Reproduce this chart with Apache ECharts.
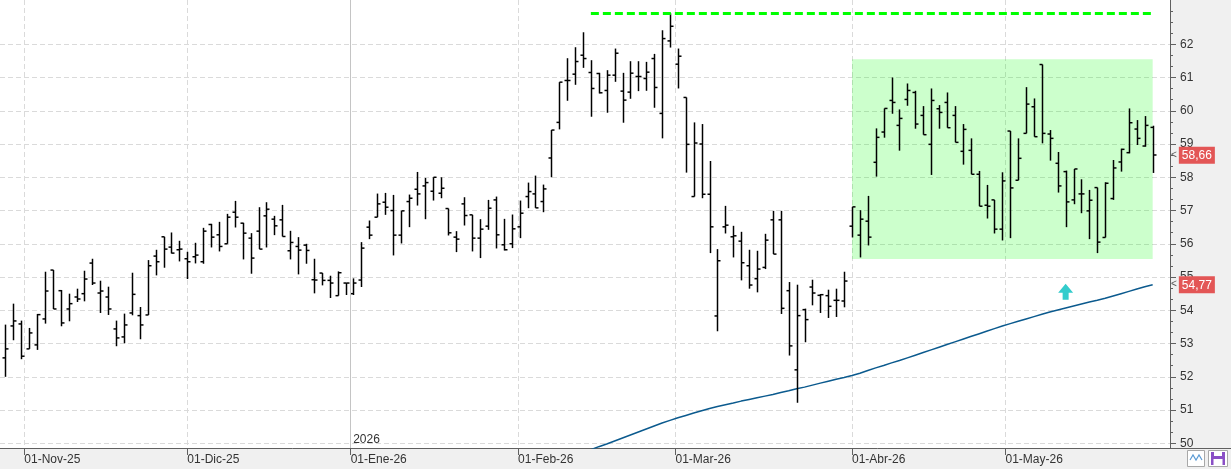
<!DOCTYPE html>
<html>
<head>
<meta charset="utf-8">
<script src="https://cdn.jsdelivr.net/npm/echarts@6/dist/echarts.min.js"></script>
<style>
html, body { margin: 0; padding: 0; background: #f0f0f0; }
#chart { width: 1231px; height: 469px; }
</style>
</head>
<body>
<div id="chart"></div>
<script>
// barras diarias OHLC, de izquierda a derecha (indice = barra)
const open = [
  52.57,53.53,53.59,52.84,52.96,53.74,55.21,54.59,54.04,54.40,
  54.50,55.42,54.52,54.40,53.44,53.20,53.92,53.84,53.86,55.63,
  56.21,55.90,55.82,55.55,55.61,55.46,56.58,56.27,56.00,56.95,
  56.62,56.17,56.38,56.84,56.74,56.72,55.79,55.92,55.96,54.92,
  55.12,54.90,54.44,54.82,54.50,54.91,56.50,56.80,57.25,57.00,
  56.26,57.27,57.64,57.74,57.58,57.52,57.06,56.20,57.20,56.87,
  56.17,56.53,57.32,55.97,56.00,56.51,57.42,57.50,57.27,58.58,
  59.65,60.91,61.10,61.67,61.15,61.12,60.61,61.07,60.59,60.56,
  61.03,60.97,61.57,59.92,62.10,61.40,60.40,57.42,59.00,57.49,
  53.83,56.51,56.21,56.08,55.34,54.95,55.29,56.72,56.72,54.59,
  52.21,54.02,54.70,54.45,54.44,54.30,54.28,56.53,56.26,56.68,
  58.45,59.36,60.31,59.56,60.34,60.55,59.86,58.99,60.06,60.25,
  59.86,58.78,58.81,58.09,57.16,57.32,56.44,59.39,57.91,59.32,
  60.12,61.39,59.30,58.42,58.17,57.32,57.50,56.99,57.69,56.19,
  57.36,58.46,58.74,59.45,58.94,59.50
];
const high = [
  53.57,54.20,53.69,53.47,53.89,55.16,55.21,54.61,54.50,54.65,
  55.19,55.55,54.89,54.71,53.69,53.90,55.13,54.10,55.51,55.82,
  56.21,56.34,56.09,55.76,56.03,56.48,56.60,56.66,56.90,57.29,
  56.63,56.32,57.10,57.25,56.84,57.17,56.39,56.20,56.00,55.55,
  55.12,55.04,55.17,54.82,54.96,56.05,56.70,57.51,57.53,57.47,
  56.99,57.48,58.16,57.98,58.00,58.00,57.06,56.38,57.40,56.87,
  56.74,57.32,57.42,56.75,56.88,57.30,57.84,58.05,57.78,59.42,
  60.86,61.58,61.91,62.36,61.52,61.14,61.22,61.87,61.14,61.49,
  61.49,61.47,61.71,62.42,62.93,61.87,60.40,59.65,59.60,58.49,
  55.84,57.14,56.54,56.36,55.82,55.79,56.30,56.99,56.99,54.85,
  54.77,54.05,54.92,54.49,54.62,54.65,55.16,57.11,57.01,57.44,
  59.47,60.07,61.00,60.04,60.82,60.60,60.14,60.67,60.17,60.55,
  60.14,59.60,59.17,58.19,57.77,57.32,58.15,59.39,59.17,60.71,
  60.37,61.39,59.42,58.76,58.20,58.25,57.94,57.62,57.69,57.85,
  58.52,58.86,60.07,59.72,59.84,59.55
];
const low = [
  52.00,53.10,52.53,52.84,52.81,53.60,54.04,53.52,53.67,54.25,
  54.27,54.76,53.92,53.86,52.92,53.01,53.85,53.13,53.86,55.05,
  55.28,55.71,55.47,54.94,55.41,55.40,55.89,55.77,56.00,56.49,
  55.53,55.10,55.84,55.89,56.26,56.22,55.53,55.08,55.40,54.51,
  54.75,54.37,54.44,54.46,54.46,54.70,56.14,56.80,56.87,55.65,
  56.01,56.50,57.15,56.74,57.30,57.37,56.25,55.75,56.55,55.77,
  55.57,56.42,55.86,55.80,55.87,56.17,57.07,57.08,56.95,58.00,
  59.44,60.30,60.78,61.29,59.82,60.52,59.94,60.87,59.64,60.36,
  60.59,60.60,60.09,59.17,61.90,60.67,58.14,57.42,57.37,55.72,
  53.37,56.31,55.59,54.90,54.65,54.54,55.24,55.69,53.89,52.64,
  51.22,53.04,54.15,53.92,53.77,53.80,54.09,56.19,55.59,55.95,
  58.02,59.19,59.91,58.80,60.15,59.46,59.28,58.07,59.46,59.49,
  59.05,58.38,58.09,57.13,56.76,56.31,56.10,56.17,57.91,59.32,
  59.22,59.02,58.50,57.54,56.50,57.19,56.92,56.14,55.72,56.19,
  57.32,58.17,58.72,58.97,58.92,58.13
];
const close = [
  52.84,53.68,52.62,53.32,53.87,54.58,54.04,53.62,54.20,54.34,
  54.94,54.82,54.58,54.04,53.17,53.56,54.48,53.56,55.34,55.46,
  55.84,55.72,55.84,55.46,55.66,56.38,56.20,55.92,56.80,56.80,
  56.32,55.57,55.84,57.04,56.54,56.22,56.04,55.81,55.80,54.91,
  54.90,54.82,55.13,54.82,54.82,55.87,56.26,57.20,57.10,56.26,
  56.99,57.37,57.50,57.84,58.00,57.67,56.33,56.14,56.85,56.17,
  56.44,57.07,56.27,55.82,56.45,56.92,57.57,57.08,57.65,59.42,
  60.86,60.91,61.48,61.57,60.67,60.54,61.07,61.73,60.32,61.13,
  61.03,61.16,60.70,62.17,62.54,61.64,58.99,59.03,57.49,56.51,
  55.49,56.56,56.24,55.43,54.76,55.24,56.11,55.69,54.06,52.93,
  53.84,53.72,54.52,54.47,54.12,54.30,54.88,57.11,56.74,56.20,
  59.20,60.07,60.25,59.77,60.61,59.60,59.28,60.31,59.95,59.49,
  59.05,59.44,58.09,57.13,57.13,56.44,57.89,57.68,58.57,60.20,
  59.22,59.32,59.17,57.74,57.26,58.25,57.50,57.31,56.05,57.82,
  58.28,58.84,59.64,59.17,59.56,58.67
];

// media movil: empieza en la barra 73 (antes queda por debajo del grafico)
const maStart = 73;
const maValues = [
  49.73,49.81,49.90,49.98,50.07,50.16,50.25,50.34,50.43,50.52,
  50.61,50.69,50.77,50.84,50.91,50.98,51.05,51.11,51.16,51.21,
  51.27,51.32,51.37,51.42,51.47,51.53,51.58,51.64,51.69,51.75,
  51.81,51.87,51.93,51.98,52.04,52.11,52.19,52.27,52.34,52.42,
  52.49,52.57,52.65,52.73,52.81,52.89,52.97,53.05,53.13,53.21,
  53.29,53.37,53.45,53.53,53.60,53.67,53.74,53.81,53.88,53.95,
  54.01,54.07,54.13,54.19,54.25,54.30,54.36,54.43,54.50,54.57,
  54.64,54.71,54.77
];

// eje X: posicion (en barras) de cada inicio de mes
const tickIdx = [2.4, 23.0, 43.65, 64.8, 84.7, 107.0, 126.4];
const tickLabels = ['01-Nov-25', '01-Dic-25', '01-Ene-26', '01-Feb-26', '01-Mar-26', '01-Abr-26', '01-May-26'];
const yearIdx = 43.65;
const yearLabel = '2026';

// eje Y
const yMajor = [50, 51, 52, 53, 54, 55, 56, 57, 58, 59, 60, 61, 62];
const priceTags = [58.66, 54.77];

// dibujos del analista
const resistance = { from: 74, to: 145, value: 62.93 };
const box = { from: 107, to: 145, top: 61.55, bottom: 55.54 };
const arrow = { at: 134, value: 54.56 };

const X_MIN = -0.67, X_MAX = 147.19;
const Y_MIN = 49.86, Y_MAX = 63.33;

const yMinor = [];
for (let v = 49; v <= 63; v++) {
    yMinor.push(v + 1 / 3, v + 2 / 3);
}
yMinor.push(63);

const ohlc = open.map((o, i) => [i, o, high[i], low[i], close[i]]);
const ma = maValues.map((v, k) => [maStart + k, v]);

const FONT = 'Liberation Sans';
const AXIS_COLOR = '#606060';
const GRID_LINE = { color: '#dadada', type: [5, 3], width: 1 };

function renderBar(params, api) {
    const i = api.value(0);
    const o = api.coord([i, api.value(1)]);
    const h = api.coord([i, api.value(2)]);
    const l = api.coord([i, api.value(3)]);
    const c = api.coord([i, api.value(4)]);
    const x = Math.round(h[0]) + 0.5;
    const st = { stroke: '#000', lineWidth: 1.5 };
    return {
        type: 'group',
        children: [
            { type: 'line', shape: { x1: x, y1: h[1], x2: x, y2: l[1] }, style: st },
            { type: 'line', shape: { x1: x - 3, y1: o[1], x2: x, y2: o[1] }, style: st },
            { type: 'line', shape: { x1: x, y1: c[1], x2: x + 3, y2: c[1] }, style: st }
        ]
    };
}

const gridBox = { left: 0, right: 61, top: 0, bottom: 21, outerBoundsMode: 'none' };

const hiddenX = (g) => ({
    type: 'value', gridIndex: g, min: X_MIN, max: X_MAX, show: false,
    axisLine: { onZero: false }
});

const chart = echarts.init(document.getElementById('chart'), null, { renderer: 'canvas' });

chart.setOption({
    animation: false,
    backgroundColor: '#f0f0f0',
    grid: [
        Object.assign({ show: true, backgroundColor: '#fff', borderWidth: 0 }, gridBox),
        Object.assign({ show: false }, gridBox),
        Object.assign({ show: false }, gridBox)
    ],
    xAxis: [
        {
            type: 'value', gridIndex: 0, min: X_MIN, max: X_MAX,
            axisLine: { show: true, onZero: false, lineStyle: { color: AXIS_COLOR } },
            axisTick: { show: true, customValues: tickIdx, length: 7, lineStyle: { color: AXIS_COLOR } },
            axisLabel: {
                customValues: tickIdx,
                formatter: (v) => {
                    let best = 0;
                    tickIdx.forEach((t, k) => { if (Math.abs(t - v) < Math.abs(tickIdx[best] - v)) best = k; });
                    return tickLabels[best];
                },
                align: 'left', margin: 6, color: '#333', fontSize: 12, fontFamily: FONT
            },
            splitLine: { show: true, lineStyle: GRID_LINE }
        },
        hiddenX(1),
        hiddenX(2)
    ],
    yAxis: [
        {
            type: 'value', gridIndex: 0, position: 'right', min: Y_MIN, max: Y_MAX,
            axisLine: { show: true, onZero: false, lineStyle: { color: AXIS_COLOR } },
            axisTick: { show: true, customValues: yMajor, length: 6, lineStyle: { color: AXIS_COLOR } },
            axisLabel: { customValues: yMajor, margin: 10, color: '#333', fontSize: 12, fontFamily: FONT },
            splitLine: { show: true, lineStyle: GRID_LINE }
        },
        {
            type: 'value', gridIndex: 1, position: 'right', min: Y_MIN, max: Y_MAX,
            axisLine: { show: false, onZero: false },
            axisTick: { show: true, customValues: yMinor, length: 3, lineStyle: { color: AXIS_COLOR } },
            axisLabel: { show: false },
            splitLine: { show: false }
        },
        {
            type: 'value', gridIndex: 2, position: 'right', min: Y_MIN, max: Y_MAX,
            axisLine: { show: false, onZero: false },
            axisTick: { show: false },
            axisLabel: {
                customValues: priceTags, margin: 1,
                formatter: (v) => '{a|<}{b|' + v.toFixed(2).replace('.', ',') + '}',
                rich: {
                    a: { color: '#555', fontSize: 10, fontFamily: FONT, padding: [0, 2, 0, 0] },
                    b: {
                        color: '#fff', backgroundColor: '#e35656', fontSize: 12, fontFamily: FONT,
                        padding: [3, 3, 2, 3]
                    }
                }
            },
            splitLine: { show: false }
        }
    ],
    series: [
        {
            name: 'zona',
            type: 'line',
            xAxisIndex: 0, yAxisIndex: 0,
            data: [],
            z: 1,
            markArea: {
                silent: true,
                itemStyle: { color: 'rgba(0, 255, 0, 0.2)' },
                data: [[
                    { xAxis: box.from, yAxis: box.top },
                    { xAxis: box.to, yAxis: box.bottom }
                ]]
            },
            markLine: {
                silent: true,
                symbol: 'none',
                label: { show: false },
                data: [
                    [
                        { coord: [resistance.from, resistance.value], lineStyle: { color: '#00ff00', width: 3, type: [8, 4] } },
                        { coord: [resistance.to, resistance.value] }
                    ],
                    { xAxis: yearIdx, lineStyle: { color: '#c4c4c4', width: 1, type: 'solid' } }
                ]
            },
            markPoint: {
                silent: true,
                data: [
                    {
                        coord: [yearIdx, Y_MIN], symbol: 'rect', symbolSize: 1,
                        itemStyle: { color: 'rgba(0,0,0,0)' },
                        label: { show: true, formatter: yearLabel, position: [3, -14], color: '#333', fontSize: 12, fontFamily: FONT }
                    },
                    {
                        coord: [arrow.at, arrow.value],
                        symbol: 'path://M7.5,0 L15,9 L10.5,9 L10.5,16 L4.5,16 L4.5,9 L0,9 Z',
                        symbolSize: [15, 16],
                        itemStyle: { color: '#33cccc' },
                        label: { show: false }
                    }
                ]
            }
        },
        {
            name: 'media',
            type: 'line',
            xAxisIndex: 0, yAxisIndex: 0,
            data: ma,
            showSymbol: false,
            smooth: false,
            clip: true,
            z: 3,
            lineStyle: { color: '#0b5a8e', width: 1.5 }
        },
        {
            name: 'precio',
            type: 'custom',
            xAxisIndex: 0, yAxisIndex: 0,
            data: ohlc,
            renderItem: renderBar,
            encode: { x: 0, y: [1, 2, 3, 4] },
            clip: true,
            z: 4
        }
    ],
    graphic: [
        { type: 'line', shape: { x1: 1170, y1: 448.5, x2: 1231, y2: 448.5 }, style: { stroke: AXIS_COLOR } },
        { type: 'rect', shape: { x: 1187.5, y: 450.5, width: 17, height: 16 }, style: { fill: '#fff', stroke: '#a8a8a8' } },
        {
            type: 'polyline',
            shape: { points: [[1190, 460], [1193, 455], [1196, 460], [1199, 455], [1202, 460]] },
            style: { stroke: '#5b9bd5', fill: null, lineWidth: 1.2 }
        },
        { type: 'rect', shape: { x: 1208.5, y: 450.5, width: 19, height: 16 }, style: { fill: '#fff', stroke: '#a8a8a8' } },
        { type: 'rect', shape: { x: 1211, y: 452, width: 14, height: 13 }, style: { fill: '#8a4fc6' } },
        { type: 'rect', shape: { x: 1214, y: 452, width: 8, height: 4 }, style: { fill: '#fff' } },
        { type: 'rect', shape: { x: 1213.5, y: 459, width: 9, height: 6 }, style: { fill: '#fff' } }
    ]
});
</script>
</body>
</html>
